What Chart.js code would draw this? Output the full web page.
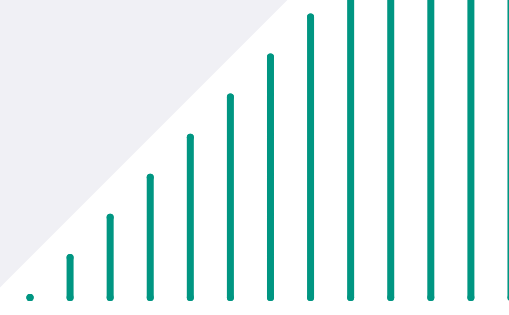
<!DOCTYPE html>
<html>
<head>
<meta charset="utf-8">
<script src="https://cdn.jsdelivr.net/npm/chart.js@4"></script>
<style>
  html, body { margin: 0; padding: 0; background: #fff; }
  canvas { display: block; }
</style>
</head>
<body>
<canvas id="chart" width="509" height="315"></canvas>
<script>
// stem positions and heights
const stemX = [0, 1, 2, 3, 4, 5, 6, 7, 8, 9, 10, 11, 12];
const stemY = [0, 1, 2, 3, 4, 5, 6, 7, 8, 9, 10, 11, 12];
// shaded region boundary (above this line)
const edgeX = [-1, 13];
const edgeY = [0, 14];

// build stems last-to-first so every stem is drawn, even the one at the edge
const stemPoints = [];
for (let i = stemX.length - 1; i >= 0; i--) {
  stemPoints.push({ x: stemX[i], y: 0 });
  stemPoints.push({ x: stemX[i], y: stemY[i] });
  stemPoints.push({ x: stemX[i], y: null });
}

const ctx = document.getElementById('chart').getContext('2d');
const chart = new Chart(ctx, {
  type: 'line',
  data: {
    datasets: [{
      data: edgeX.map((x, i) => ({ x: x, y: edgeY[i] })),
      fill: 'end',
      backgroundColor: '#f0f0f5',
      borderWidth: 0,
      pointRadius: 0,
      order: 2
    }, {
      data: stemPoints,
      borderColor: '#009682',
      borderWidth: 7,
      borderCapStyle: 'round',
      spanGaps: false,
      pointRadius: 3.5,
      pointBorderWidth: 0,
      pointBackgroundColor: '#009682',
      fill: false,
      order: 1
    }]
  },
  options: {
    responsive: false,
    animation: false,
    layout: { padding: 0, autoPadding: false },
    plugins: {
      legend: { display: false },
      tooltip: { enabled: false }
    },
    scales: {
      x: { type: 'linear', min: -0.7485, max: 11.951, display: false },
      y: { min: -0.4366, max: 7.4227, display: false }
    }
  }
});
</script>
</body>
</html>
